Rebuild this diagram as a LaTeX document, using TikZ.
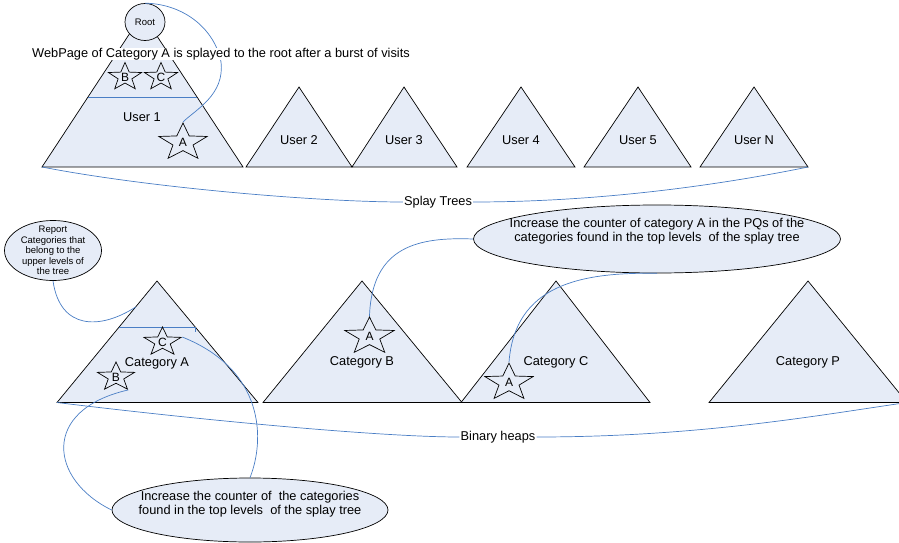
\documentclass[tikz,border=0pt]{standalone}
\usepackage{fontspec}
\setmainfont{Liberation Sans}
\usetikzlibrary{shapes.geometric}
\definecolor{shfill}{RGB}{230,236,247}
\definecolor{connc}{RGB}{74,126,197}
\begin{document}
\begin{tikzpicture}[x=1pt,y=-1pt,
  tri/.style={draw=black, fill=shfill, line width=0.7pt, line join=miter},
  lbl/.style={font=\fontsize{12.8}{14}\selectfont, inner sep=1pt},
  conn/.style={draw=connc, line width=0.7pt},
  ell/.style={ellipse, draw=black, fill=shfill, line width=0.7pt, inner sep=0pt},
  starshape/.style={star, star points=5, star point ratio=2.4, draw=black, line width=0.7pt, inner sep=0pt, transform shape, font=\fontsize{12}{12}\selectfont}
]
\useasboundingbox (0,0) rectangle (899,543);

% ---------- Splay trees ----------
\coordinate (u1l) at (42,167); \coordinate (u1t) at (142.5,14); \coordinate (u1r) at (243,167);
\draw[tri] (u1l) -- (u1t) -- (u1r) -- cycle;
\draw[conn] (88,97) -- (197,97);
\node[lbl] (u1) at (142,117) {User 1};

\coordinate (u2l) at (246,167); \coordinate (u2t) at (299,87); \coordinate (u2r) at (352,167);
\draw[tri] (u2l) -- (u2t) -- (u2r) -- cycle;
\node[lbl] (u2) at (299,140) {User 2};
\coordinate (u3l) at (352,167); \coordinate (u3t) at (404,87); \coordinate (u3r) at (457,167);
\draw[tri] (u3l) -- (u3t) -- (u3r) -- cycle;
\node[lbl] (u3) at (404,140) {User 3};
\coordinate (u4l) at (467,167); \coordinate (u4t) at (521,87); \coordinate (u4r) at (575,167);
\draw[tri] (u4l) -- (u4t) -- (u4r) -- cycle;
\node[lbl] (u4) at (521,140) {User 4};
\coordinate (u5l) at (584,167); \coordinate (u5t) at (638,87); \coordinate (u5r) at (691,167);
\draw[tri] (u5l) -- (u5t) -- (u5r) -- cycle;
\node[lbl] (u5) at (638,140) {User 5};
\coordinate (uNl) at (700,167); \coordinate (uNt) at (754,87); \coordinate (uNr) at (808,167);
\draw[tri] (uNl) -- (uNt) -- (uNr) -- cycle;
\node[lbl] (uN) at (754,140) {User N};

\begin{scope}[shift={(125,77)}, xscale=1.2]
  \node[starshape, minimum size=29pt] (sB1) at (0,0) {\scalebox{0.83}[1]{B}};
\end{scope}
\begin{scope}[shift={(161,77)}, xscale=1.2]
  \node[starshape, minimum size=29pt] (sC1) at (0,0) {\scalebox{0.83}[1]{C}};
\end{scope}
\begin{scope}[shift={(183,142.5)}, xscale=1.3]
  \node[starshape, minimum size=39pt] (sA1) at (0,0) {\scalebox{0.77}[1]{A}};
\end{scope}

\node[ell, minimum width=40pt, minimum height=37pt] (root) at (145,22) {};
\node[font=\fontsize{9.5}{10}\selectfont] (roott) at (root.center) {Root};

\draw[conn] (root.north) .. controls (185,4) and (215,30) .. (221,62)
  .. controls (225,95) and (195,110) .. (sA1.outer point 1);

\node[lbl, fill=white, inner sep=0.5pt] (splaytxt) at (221,54) {WebPage of Category A is splayed to the root after a burst of visits};

\node[lbl] (splay) at (438,202) {Splay Trees};
\draw[conn] (u1l) .. controls (150,188) and (320,202) .. (splay.west);
\draw[conn] (splay.east) .. controls (600,202) and (720,185) .. (uNr);

% ---------- Binary heaps ----------
\coordinate (cAl) at (57,402.5); \coordinate (cAt) at (157,281); \coordinate (cAr) at (258,402.5);
\draw[tri] (cAl) -- (cAt) -- (cAr) -- cycle;
\draw[conn] (119,327) -- (195,327) -- (195,332);
\node[lbl] (cA) at (157,363) {Category A};

\coordinate (cBl) at (263,402.5); \coordinate (cBt) at (362,281); \coordinate (cBr) at (462,402.5);
\draw[tri] (cBl) -- (cBt) -- (cBr) -- cycle;
\node[lbl] (cB) at (362,362) {Category B};

\coordinate (cCl) at (461,402.5); \coordinate (cCt) at (556,281); \coordinate (cCr) at (650,402.5);
\draw[tri] (cCl) -- (cCt) -- (cCr) -- cycle;
\node[lbl] (cC) at (556,362) {Category C};

\coordinate (cPl) at (709,402.5); \coordinate (cPt) at (808,281); \coordinate (cPr) at (907,402.5);
\draw[tri] (cPl) -- (cPt) -- (cPr) -- cycle;
\node[lbl] (cP) at (808,362) {Category P};

\begin{scope}[shift={(162.5,342)}, xscale=1.3]
  \node[starshape, minimum size=30pt] (sC2) at (0,0) {\scalebox{0.77}[1]{C}};
\end{scope}
\begin{scope}[shift={(116,377)}, xscale=1.3]
  \node[starshape, minimum size=30pt] (sB2) at (0,0) {\scalebox{0.77}[1]{B}};
\end{scope}
\begin{scope}[shift={(369.5,336.5)}, xscale=1.33]
  \node[starshape, minimum size=39pt] (sA2) at (0,0) {\scalebox{0.75}[1]{A}};
\end{scope}
\begin{scope}[shift={(509,382.6)}, xscale=1.3]
  \node[starshape, minimum size=39pt] (sA3) at (0,0) {\scalebox{0.77}[1]{A}};
\end{scope}

\node[ell, minimum width=97pt, minimum height=60pt] (rep) at (53,250.5) {};
\node[align=center, font=\fontsize{9.5}{10.4}\selectfont, inner sep=0pt] (rept) at (rep.center) {Report\\Categories that\\belong to the\\upper levels of\\the tree};
\coordinate (repend) at (135.7,307);
\draw[conn] (rep.south) .. controls (60,330) and (100,330) .. (repend);

\node[ell, minimum width=367pt, minimum height=68pt] (incA) at (657,239) {};
\node[lbl, align=center, inner sep=0pt] (incAt) at ([yshift=7.5pt]incA.center) {Increase the counter of category A in the PQs of the\\categories found in the top levels\ \ of the splay tree};

\node[ell, minimum width=276pt, minimum height=64pt] (incC) at (250,510) {};
\node[lbl, align=center, inner sep=0pt] (incCt) at ([yshift=5.5pt]incC.center) {Increase the counter of\ \ the categories\\found in the top levels\ \ of the splay tree};

\draw[conn] (sA2.outer point 1) .. controls (372,245) and (420,237) .. (incA.west);
\draw[conn] (sA3.outer point 1) .. controls (515,285) and (580,272) .. (incA.south);
\draw[conn] (sC2.outer point 5) .. controls (265,370) and (265,440) .. (incC.north);
\draw[conn] (sB2.outer point 4) .. controls (40,410) and (50,480) .. (incC.west);

\node[lbl] (heaps) at (498,437) {Binary heaps};
\draw[conn] (cAl) .. controls (200,420) and (380,437) .. (heaps.west);
\draw[conn] (heaps.east) .. controls (700,437) and (820,415) .. (cPr);
\end{tikzpicture}
\end{document}
